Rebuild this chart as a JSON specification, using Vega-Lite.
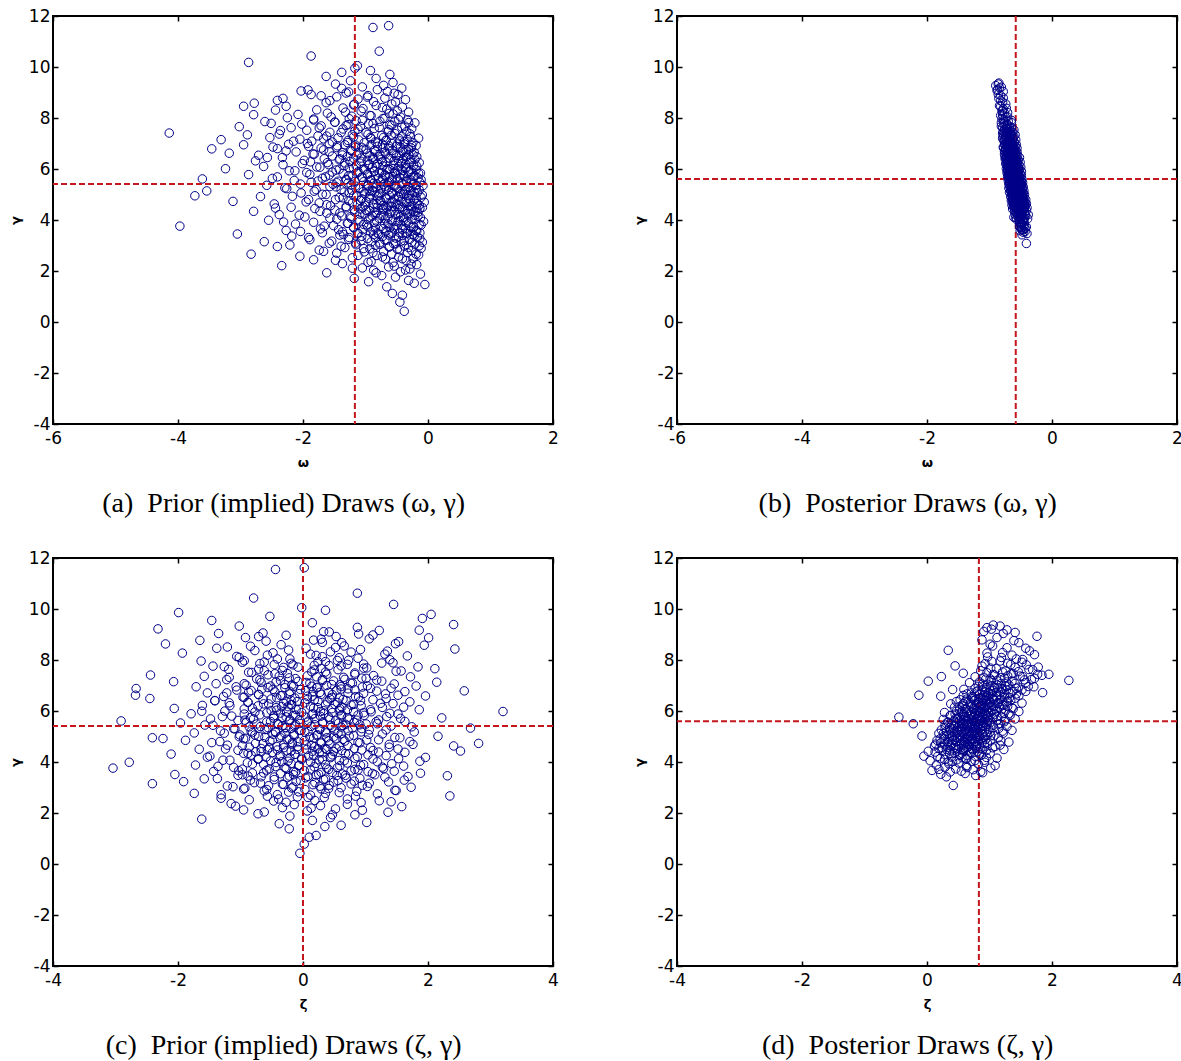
{
"$schema": "https://vega.github.io/schema/vega-lite/v6.json",
"padding": {"left": 8, "top": 6, "right": 0, "bottom": 0},
"columns": 2,
"spacing": {"row": 134, "column": 124},
"bounds": "flush",
"datasets": {
"prior": [
{"g":0.42,"w":-0.38,"z":-0.05},{"g":0.78,"w":-0.45,"z":0.02},{"g":1.05,"w":-0.41,"z":0.10},{"g":1.12,"w":-0.57,"z":0.21},{"g":1.38,"w":-0.66,"z":-0.22},{"g":1.47,"w":-0.05,"z":0.35},
{"g":1.52,"w":-0.22,"z":0.61},{"g":1.58,"w":-0.95,"z":-0.38},{"g":1.63,"w":-0.31,"z":1.02},{"g":1.71,"w":-1.18,"z":0.15},{"g":1.76,"w":-0.52,"z":-1.62},{"g":1.82,"w":-0.74,"z":0.44},{"g":1.88,"w":-0.12,"z":-0.21},{"g":1.93,"w":-1.62,"z":0.83},{"g":1.97,"w":-0.44,"z":-0.72},{"g":2.03,"w":-0.87,"z":1.36},{"g":2.08,"w":-0.29,"z":0.07},{"g":2.12,"w":-1.05,"z":-0.95},{"g":2.16,"w":-0.63,"z":0.52},{"g":2.21,"w":-2.34,"z":-0.33},{"g":2.25,"w":-0.18,"z":1.58},{"g":2.29,"w":-1.37,"z":0.28},{"g":2.33,"w":-0.56,"z":-0.14},{"g":2.37,"w":-0.91,"z":-1.15},{"g":2.41,"w":-0.35,"z":0.93},{"g":2.44,"w":-1.83,"z":1.41},{"g":2.47,"w":-0.68,"z":-0.47},{"g":2.49,"w":-0.24,"z":0.19},
{"g":2.52,"w":-1.21,"z":-0.86},{"g":2.55,"w":-0.47,"z":0.71},{"g":2.58,"w":-2.05,"z":-1.31},{"g":2.61,"w":-0.82,"z":0.34},{"g":2.63,"w":-0.15,"z":-0.09},{"g":2.66,"w":-2.83,"z":-0.57},{"g":2.67,"w":-0.58,"z":2.35},{"g":2.70,"w":-1.46,"z":0.12},{"g":2.72,"w":-0.33,"z":-0.41},{"g":2.75,"w":-1.02,"z":1.19},{"g":2.77,"w":-0.71,"z":-1.74},{"g":2.80,"w":-0.26,"z":0.58},{"g":2.82,"w":-1.74,"z":-0.23},{"g":2.85,"w":-0.49,"z":0.86},{"g":2.87,"w":-0.93,"z":-0.62},{"g":2.89,"w":-0.11,"z":1.47},{"g":2.92,"w":-1.33,"z":0.03},{"g":2.94,"w":-0.62,"z":-0.95},{"g":2.96,"w":-2.41,"z":0.41},{"g":2.98,"w":-0.38,"z":-0.18},{"g":3.01,"w":-0.84,"z":1.73},{"g":3.03,"w":-1.15,"z":-1.12},{"g":3.05,"w":-0.21,"z":0.27},{"g":3.07,"w":-0.55,"z":-0.55},{"g":3.09,"w":-1.58,"z":0.95},{"g":3.11,"w":-0.77,"z":0.16},{"g":3.13,"w":-0.09,"z":-0.33},{"g":3.15,"w":-2.62,"z":-2.41},{"g":3.17,"w":-0.43,"z":1.06},{"g":3.19,"w":-1.07,"z":-0.78},{"g":3.21,"w":-0.66,"z":0.49},{"g":3.23,"w":-1.89,"z":-1.91},{"g":3.25,"w":-0.29,"z":0.82},{"g":3.27,"w":-0.97,"z":-0.04},{"g":3.29,"w":-0.51,"z":1.62},{"g":3.31,"w":-1.26,"z":-0.46},{"g":3.33,"w":-0.17,"z":0.36},{"g":3.35,"w":-0.73,"z":-1.37},{"g":3.37,"w":-2.18,"z":0.69},{"g":3.39,"w":-0.41,"z":-0.25},{"g":3.41,"w":-1.41,"z":1.31},{"g":3.42,"w":-0.87,"z":-0.67},{"g":3.44,"w":-0.24,"z":0.08},{"g":3.45,"w":-3.05,"z":-0.88},{"g":3.46,"w":-0.59,"z":2.31},{"g":3.47,"w":-1.12,"z":0.54},{"g":3.48,"w":-0.35,"z":-1.04},{"g":3.49,"w":-0.81,"z":0.21},{"g":3.50,"w":-1.69,"z":-0.15},{"g":3.50,"w":-0.13,"z":1.15},
{"g":3.51,"w":-0.46,"z":-2.05},{"g":3.53,"w":-0.92,"z":0.63},{"g":3.54,"w":-1.37,"z":-0.36},{"g":3.56,"w":-0.28,"z":1.88},{"g":3.57,"w":-0.67,"z":-0.81},{"g":3.59,"w":-2.27,"z":0.29},{"g":3.60,"w":-0.19,"z":-0.12},{"g":3.62,"w":-1.04,"z":1.04},{"g":3.63,"w":-0.53,"z":-1.43},{"g":3.65,"w":-1.72,"z":0.77},{"g":3.66,"w":-0.36,"z":0.02},{"g":3.68,"w":-0.84,"z":-0.58},{"g":3.69,"w":-0.55,"z":0.88},{"g":3.71,"w":-0.61,"z":0.41},{"g":3.72,"w":-1.19,"z":-0.97},{"g":3.74,"w":-0.23,"z":1.29},{"g":3.75,"w":-0.75,"z":-0.27},{"g":3.76,"w":-3.97,"z":-3.04},{"g":3.78,"w":-1.51,"z":0.55},{"g":3.79,"w":-0.42,"z":-1.11},{"g":3.81,"w":-0.98,"z":0.18},{"g":3.82,"w":-0.14,"z":-0.44},{"g":3.84,"w":-2.12,"z":1.61},{"g":3.85,"w":-0.69,"z":-0.07},{"g":3.87,"w":-1.28,"z":0.92},{"g":3.88,"w":-0.31,"z":-1.72},{"g":3.90,"w":-0.86,"z":0.36},{"g":3.91,"w":-1.83,"z":-0.63},{"g":3.93,"w":-0.48,"z":1.42},{"g":3.94,"w":-0.07,"z":-0.19},{"g":3.96,"w":-1.09,"z":0.71},{"g":3.97,"w":-0.57,"z":-0.89},{"g":3.99,"w":-2.55,"z":-2.78},{"g":4.00,"w":-0.39,"z":0.12},{"g":4.01,"w":-0.95,"z":-0.34},{"g":4.03,"w":-1.46,"z":1.87},{"g":4.04,"w":-0.26,"z":-0.52},{"g":4.06,"w":-0.78,"z":0.58},{"g":4.07,"w":-1.23,"z":-1.28},{"g":4.09,"w":-0.12,"z":0.26},{"g":4.10,"w":-0.64,"z":-0.02},{"g":4.12,"w":-1.97,"z":1.12},{"g":4.13,"w":-0.44,"z":-0.71},{"g":4.15,"w":-0.89,"z":0.83},{"g":4.16,"w":-1.38,"z":-0.21},{"g":4.18,"w":-0.21,"z":1.96},{"g":4.19,"w":-0.71,"z":-1.53},{"g":4.21,"w":-2.38,"z":0.45},{"g":4.22,"w":-0.52,"z":-0.38},{"g":4.24,"w":-1.01,"z":0.09},{"g":4.25,"w":-0.33,"z":1.33},{"g":4.27,"w":-1.62,"z":-0.83},{"g":4.28,"w":-0.83,"z":0.47},{"g":4.30,"w":-0.16,"z":-0.13},{"g":4.31,"w":-1.17,"z":-2.11},{"g":4.33,"w":-0.59,"z":0.68},{"g":4.34,"w":-2.79,"z":-0.95},{"g":4.36,"w":-0.37,"z":0.31},{"g":4.37,"w":-0.94,"z":-0.49},{"g":4.39,"w":-1.49,"z":1.21},{"g":4.40,"w":-0.27,"z":-0.76},{"g":4.42,"w":-0.73,"z":0.15},{"g":4.43,"w":-1.08,"z":2.52},{"g":4.44,"w":-0.46,"z":-0.26},{"g":4.45,"w":-1.81,"z":0.62},{"g":4.46,"w":-0.18,"z":-1.04},{"g":4.47,"w":-0.66,"z":0.94},{"g":4.48,"w":-1.31,"z":-0.57},{"g":4.49,"w":-0.09,"z":0.38},{"g":4.50,"w":-0.81,"z":-0.09},{"g":4.50,"w":-2.19,"z":-1.66},{"g":4.51,"w":-0.41,"z":1.52},{"g":4.52,"w":-1.04,"z":0.24},{"g":4.53,"w":-0.58,"z":-0.67},
{"g":4.54,"w":-0.29,"z":0.53},{"g":4.56,"w":-1.56,"z":-0.31},{"g":4.57,"w":-0.72,"z":1.08},{"g":4.58,"w":-0.14,"z":-0.86},{"g":4.60,"w":-1.13,"z":0.19},{"g":4.61,"w":-0.48,"z":-0.42},{"g":4.63,"w":-2.46,"z":2.41},{"g":4.64,"w":-0.87,"z":0.72},{"g":4.66,"w":-0.34,"z":-1.21},{"g":4.67,"w":-1.74,"z":0.05},{"g":4.69,"w":-0.61,"z":1.38},{"g":4.70,"w":-0.06,"z":-0.17},{"g":4.72,"w":-0.99,"z":-0.64},{"g":4.73,"w":-3.12,"z":2.81},{"g":4.74,"w":-0.43,"z":0.29},{"g":4.76,"w":-1.27,"z":-1.46},{"g":4.77,"w":-0.77,"z":0.88},{"g":4.79,"w":-0.22,"z":-0.08},{"g":4.80,"w":-1.91,"z":1.71},{"g":4.82,"w":-0.54,"z":-0.53},{"g":4.83,"w":-1.06,"z":0.41},{"g":4.85,"w":-0.31,"z":-1.88},{"g":4.86,"w":-0.68,"z":1.02},{"g":4.88,"w":-1.42,"z":-0.22},{"g":4.89,"w":-0.11,"z":0.64},{"g":4.91,"w":-0.93,"z":-0.95},{"g":4.92,"w":-2.68,"z":-2.24},{"g":4.94,"w":-0.47,"z":0.17},{"g":4.95,"w":-1.19,"z":1.55},{"g":4.95,"w":-3.73,"z":-2.41},{"g":4.97,"w":-0.25,"z":-0.37},{"g":4.98,"w":-0.79,"z":0.49},{"g":5.00,"w":-1.63,"z":-0.71},{"g":5.01,"w":-0.39,"z":2.16},{"g":5.03,"w":-1.01,"z":-0.14},{"g":5.04,"w":-0.57,"z":0.81},{"g":5.06,"w":-2.03,"z":-1.01},{"g":5.07,"w":-0.17,"z":0.23},{"g":5.09,"w":-0.85,"z":-0.48},{"g":5.10,"w":-1.34,"z":1.27},{"g":5.12,"w":-0.45,"z":-0.29},{"g":5.13,"w":-0.94,"z":0.56},{"g":5.14,"w":-3.54,"z":-1.74},{"g":5.15,"w":-0.28,"z":-0.81},{"g":5.17,"w":-1.22,"z":0.03},{"g":5.18,"w":-0.63,"z":1.78},{"g":5.19,"w":-1.79,"z":-0.44},{"g":5.21,"w":-0.36,"z":0.36},{"g":5.22,"w":-0.75,"z":-1.32},{"g":5.23,"w":-1.09,"z":0.72},{"g":5.24,"w":-0.19,"z":-0.03},{"g":5.26,"w":-2.29,"z":1.06},{"g":5.27,"w":-0.51,"z":-0.61},{"g":5.28,"w":-0.88,"z":0.27},{"g":5.30,"w":-1.47,"z":-1.09},{"g":5.31,"w":-0.32,"z":0.94},{"g":5.32,"w":-0.69,"z":-0.19},{"g":5.33,"w":-1.16,"z":2.68},{"g":5.35,"w":-0.08,"z":-0.56},{"g":5.36,"w":-2.58,"z":-0.28},{"g":5.37,"w":-0.55,"z":0.61},{"g":5.38,"w":-0.96,"z":-0.86},{"g":5.40,"w":-1.52,"z":0.13},{"g":5.41,"w":-0.24,"z":1.41},{"g":5.42,"w":-0.82,"z":-0.33},{"g":5.44,"w":-0.42,"z":0.44},{"g":5.45,"w":-1.28,"z":-1.57},{"g":5.46,"w":-0.64,"z":0.91},{"g":5.47,"w":-0.13,"z":-0.12},{"g":5.48,"w":-1.87,"z":0.68},{"g":5.49,"w":-0.76,"z":-0.74},{"g":5.50,"w":-1.03,"z":1.19},
{"g":5.51,"w":-0.35,"z":-0.41},{"g":5.52,"w":-1.44,"z":0.31},{"g":5.53,"w":-0.58,"z":-1.96},{"g":5.55,"w":-2.14,"z":0.82},{"g":5.56,"w":-0.27,"z":0.07},{"g":5.57,"w":-0.91,"z":-0.58},{"g":5.59,"w":-1.31,"z":1.63},{"g":5.60,"w":-0.49,"z":-0.22},{"g":5.61,"w":-3.61,"z":-2.91},{"g":5.62,"w":-0.73,"z":0.52},{"g":5.64,"w":-1.69,"z":-0.93},{"g":5.65,"w":-0.16,"z":1.21},{"g":5.66,"w":-1.05,"z":-0.06},{"g":5.68,"w":-0.62,"z":0.74},{"g":5.69,"w":-2.41,"z":-1.48},{"g":5.70,"w":-0.38,"z":0.19},{"g":5.72,"w":-0.84,"z":-0.47},{"g":5.73,"w":-1.21,"z":2.22},{"g":5.74,"w":-0.21,"z":-0.84},{"g":5.76,"w":-1.58,"z":0.41},{"g":5.77,"w":-0.69,"z":-0.27},{"g":5.78,"w":-2.87,"z":1.34},{"g":5.80,"w":-0.44,"z":-1.14},{"g":5.81,"w":-0.97,"z":0.61},{"g":5.82,"w":-1.36,"z":-0.16},{"g":5.84,"w":-0.12,"z":0.88},{"g":5.85,"w":-0.78,"z":-0.69},{"g":5.86,"w":-1.94,"z":0.14},{"g":5.88,"w":-0.53,"z":1.52},{"g":5.89,"w":-1.12,"z":-1.79},{"g":5.90,"w":-0.29,"z":0.33},{"g":5.92,"w":-0.86,"z":-0.36},{"g":5.93,"w":-2.22,"z":0.97},{"g":5.94,"w":-0.41,"z":-0.02},{"g":5.96,"w":-1.47,"z":-0.77},{"g":5.97,"w":-0.66,"z":1.09},{"g":5.98,"w":-0.19,"z":0.28},{"g":5.98,"w":-0.61,"z":3.20},{"g":6.00,"w":-1.03,"z":-1.25},{"g":6.01,"w":-3.24,"z":0.58},{"g":6.02,"w":-0.56,"z":-0.51},{"g":6.04,"w":-1.26,"z":0.71},{"g":6.05,"w":-0.34,"z":1.86},{"g":6.06,"w":-0.89,"z":-0.11},{"g":6.08,"w":-1.78,"z":-0.94},{"g":6.09,"w":-0.47,"z":0.46},{"g":6.10,"w":-2.63,"z":-2.06},{"g":6.12,"w":-0.72,"z":0.17},{"g":6.13,"w":-1.15,"z":-0.43},{"g":6.14,"w":-0.23,"z":1.27},{"g":6.16,"w":-0.95,"z":0.62},{"g":6.17,"w":-1.59,"z":-0.24},{"g":6.20,"w":-0.36,"z":-0.72},{"g":6.21,"w":-2.01,"z":0.93},{"g":6.22,"w":-0.81,"z":-1.61},{"g":6.24,"w":-1.33,"z":0.36},{"g":6.25,"w":-0.14,"z":-0.18},{"g":6.26,"w":-0.67,"z":0.81},{"g":6.28,"w":-1.88,"z":-0.55},{"g":6.29,"w":-0.43,"z":1.44},{"g":6.30,"w":-1.07,"z":-0.31},{"g":6.32,"w":-2.76,"z":-1.18},{"g":6.33,"w":-0.54,"z":0.55},{"g":6.34,"w":-0.97,"z":-0.88},{"g":6.36,"w":-1.42,"z":1.71},{"g":6.37,"w":-0.28,"z":-0.09},{"g":6.38,"w":-0.75,"z":0.24},{"g":6.40,"w":-1.66,"z":-1.41},{"g":6.41,"w":-0.39,"z":0.69},{"g":6.42,"w":-1.19,"z":-0.19},{"g":6.44,"w":-0.63,"z":1.12},{"g":6.45,"w":-2.33,"z":0.07},{"g":6.46,"w":-0.88,"z":-0.64},{"g":6.48,"w":-0.18,"z":0.43},{"g":6.49,"w":-1.29,"z":-2.45},
{"g":6.51,"w":-0.46,"z":0.58},{"g":6.52,"w":-0.93,"z":-0.42},{"g":6.54,"w":-2.71,"z":-0.94},{"g":6.55,"w":-1.37,"z":0.89},{"g":6.57,"w":-0.31,"z":-1.27},{"g":6.58,"w":-0.77,"z":0.15},{"g":6.59,"w":-1.84,"z":1.96},{"g":6.61,"w":-0.55,"z":-0.33},{"g":6.62,"w":-3.18,"z":-2.68},{"g":6.64,"w":-1.11,"z":0.47},{"g":6.65,"w":-0.22,"z":-0.71},{"g":6.67,"w":-0.69,"z":1.32},{"g":6.68,"w":-1.58,"z":-0.06},{"g":6.70,"w":-0.41,"z":0.72},{"g":6.71,"w":-2.27,"z":-1.53},{"g":6.73,"w":-0.86,"z":0.27},{"g":6.74,"w":-1.24,"z":-0.87},{"g":6.76,"w":-0.35,"z":1.63},{"g":6.77,"w":-0.99,"z":-0.21},{"g":6.79,"w":-3.46,"z":2.58},{"g":6.80,"w":-0.62,"z":0.04},{"g":6.82,"w":-1.71,"z":-1.06},{"g":6.83,"w":-0.27,"z":0.83},{"g":6.85,"w":-1.06,"z":-0.48},{"g":6.86,"w":-2.48,"z":0.61},{"g":6.88,"w":-0.51,"z":-2.67},{"g":6.89,"w":-0.81,"z":1.08},{"g":6.91,"w":-1.45,"z":0.22},{"g":6.92,"w":-0.19,"z":-0.56},{"g":6.94,"w":-1.16,"z":0.95},{"g":6.95,"w":-2.95,"z":-1.71},{"g":6.97,"w":-0.73,"z":-0.15},{"g":6.98,"w":-0.38,"z":1.81},{"g":7.00,"w":-1.93,"z":0.38},{"g":7.01,"w":-0.58,"z":-0.91},{"g":7.03,"w":-1.02,"z":0.59},{"g":7.04,"w":-0.24,"z":-0.29},{"g":7.06,"w":-1.53,"z":1.46},{"g":7.07,"w":-0.84,"z":-1.39},{"g":7.09,"w":-2.15,"z":0.11},{"g":7.10,"w":-0.45,"z":0.76},{"g":7.12,"w":-1.28,"z":-0.67},{"g":7.13,"w":-0.67,"z":2.14},{"g":7.15,"w":-3.31,"z":-2.07},{"g":7.16,"w":-0.33,"z":-0.08},{"g":7.18,"w":-1.67,"z":0.49},{"g":7.19,"w":-0.91,"z":-0.36},{"g":7.21,"w":-0.15,"z":1.18},{"g":7.23,"w":-2.53,"z":-1.22},{"g":7.24,"w":-0.71,"z":0.31},{"g":7.26,"w":-1.19,"z":-0.74},{"g":7.28,"w":-0.42,"z":1.01},{"g":7.30,"w":-1.76,"z":-0.22},{"g":7.32,"w":-0.59,"z":0.65},{"g":7.34,"w":-2.89,"z":1.72},{"g":7.36,"w":-0.96,"z":-1.58},{"g":7.38,"w":-0.29,"z":0.07},{"g":7.41,"w":-4.14,"z":-2.44},{"g":7.43,"w":-1.39,"z":0.83},{"g":7.46,"w":-0.64,"z":-0.45},
{"g":7.51,"w":-2.36,"z":-0.82},{"g":7.53,"w":-0.49,"z":0.36},{"g":7.56,"w":-1.12,"z":1.49},{"g":7.58,"w":-0.26,"z":-0.62},{"g":7.61,"w":-1.74,"z":0.18},{"g":7.63,"w":-0.78,"z":-1.19},{"g":7.66,"w":-3.02,"z":2.11},{"g":7.68,"w":-0.37,"z":0.97},{"g":7.71,"w":-1.31,"z":-0.31},{"g":7.73,"w":-0.61,"z":1.84},{"g":7.76,"w":-2.02,"z":-1.44},{"g":7.78,"w":-0.88,"z":0.42},{"g":7.81,"w":-0.21,"z":-0.16},{"g":7.83,"w":-1.49,"z":0.71},{"g":7.86,"w":-2.61,"z":-0.69},{"g":7.88,"w":-0.53,"z":1.26},{"g":7.91,"w":-1.05,"z":-0.97},{"g":7.93,"w":-0.33,"z":0.24},{"g":7.96,"w":-1.83,"z":-1.63},{"g":7.98,"w":-0.72,"z":0.55},{"g":8.01,"w":-2.25,"z":1.39},{"g":8.04,"w":-0.44,"z":-0.41},{"g":8.07,"w":-1.22,"z":0.88},{"g":8.10,"w":-0.93,"z":-1.02},{"g":8.13,"w":-2.79,"z":0.31},{"g":8.16,"w":-0.56,"z":1.67},{"g":8.19,"w":-1.61,"z":-0.57},{"g":8.23,"w":-0.31,"z":0.12},{"g":8.27,"w":-1.07,"z":-1.93},{"g":8.31,"w":-2.44,"z":0.77},{"g":8.35,"w":-0.66,"z":1.35},{"g":8.39,"w":-1.36,"z":-0.23},{"g":8.43,"w":-0.41,"z":2.43},{"g":8.46,"w":-2.95,"z":-1.38},{"g":8.49,"w":-0.83,"z":0.52},
{"g":8.54,"w":-1.18,"z":-0.84},{"g":8.58,"w":-2.78,"z":1.94},{"g":8.63,"w":-0.52,"z":-2.20},{"g":8.68,"w":-1.57,"z":0.62},{"g":8.72,"w":-0.36,"z":1.53},{"g":8.77,"w":-2.32,"z":-1.65},{"g":8.82,"w":-0.97,"z":0.29},{"g":8.87,"w":-1.71,"z":2.01},{"g":8.92,"w":-0.48,"z":-0.71},{"g":8.98,"w":-1.31,"z":1.12},{"g":9.04,"w":-0.65,"z":-1.35},{"g":9.10,"w":-1.92,"z":0.42},{"g":9.17,"w":-0.42,"z":1.86},{"g":9.22,"w":-1.05,"z":-2.32},{"g":9.28,"w":-0.71,"z":0.87},{"g":9.33,"w":-1.48,"z":-1.02},{"g":9.39,"w":-0.56,"z":2.41},{"g":9.46,"w":-1.24,"z":0.15},
{"g":9.55,"w":-0.83,"z":-1.46},{"g":9.63,"w":-1.63,"z":1.91},{"g":9.71,"w":-0.61,"z":-0.53},{"g":9.79,"w":-1.38,"z":2.05},{"g":9.86,"w":-0.92,"z":-1.99},{"g":9.95,"w":-1.17,"z":0.36},{"g":10.05,"w":-1.13,"z":-0.02},{"g":10.18,"w":-2.87,"z":1.45},{"g":10.43,"w":-1.87,"z":-0.79},{"g":10.62,"w":-0.78,"z":0.87},{"g":11.55,"w":-0.88,"z":-0.44},{"g":11.62,"w":-0.63,"z":0.02},
{"g":1.93,"w":-0.83,"z":0.47},{"g":2.04,"w":-0.36,"z":-0.62},{"g":2.11,"w":-1.21,"z":0.95},{"g":2.19,"w":-0.54,"z":0.13},{"g":2.27,"w":-0.27,"z":-1.08},{"g":2.34,"w":-0.96,"z":0.71},{"g":2.42,"w":-1.48,"z":-0.27},{"g":2.48,"w":-0.41,"z":1.22},{"g":2.55,"w":-0.73,"z":-0.39},{"g":2.61,"w":-1.12,"z":0.08},{"g":2.66,"w":-0.19,"z":0.84},{"g":2.72,"w":-0.88,"z":-1.31},{"g":2.77,"w":-1.67,"z":0.36},{"g":2.83,"w":-0.45,"z":-0.07},{"g":2.88,"w":-1.03,"z":1.49},{"g":2.92,"w":-0.31,"z":-0.58},{"g":2.95,"w":-0.62,"z":0.29},{"g":2.97,"w":-1.39,"z":-0.93},{"g":2.99,"w":-0.14,"z":0.61},{"g":3.02,"w":-2.21,"z":-0.16},
{"g":3.04,"w":-0.77,"z":1.03},{"g":3.06,"w":-0.52,"z":-1.21},{"g":3.09,"w":-1.16,"z":0.42},{"g":3.12,"w":-0.26,"z":-0.31},{"g":3.14,"w":-0.91,"z":0.77},{"g":3.17,"w":-1.54,"z":-0.68},{"g":3.19,"w":-0.38,"z":0.19},{"g":3.22,"w":-0.69,"z":1.37},{"g":3.24,"w":-1.27,"z":-0.11},{"g":3.27,"w":-0.13,"z":0.56},{"g":3.29,"w":-0.84,"z":-0.84},{"g":3.31,"w":-1.91,"z":0.33},{"g":3.34,"w":-0.47,"z":-1.58},{"g":3.36,"w":-1.06,"z":0.91},{"g":3.38,"w":-0.22,"z":0.04},{"g":3.41,"w":-0.63,"z":-0.46},{"g":3.43,"w":-1.35,"z":1.68},{"g":3.45,"w":-0.79,"z":-0.22},{"g":3.48,"w":-0.33,"z":0.68},{"g":3.50,"w":-1.13,"z":-0.97},{"g":3.52,"w":-0.57,"z":0.25},{"g":3.55,"w":-2.04,"z":1.11},{"g":3.57,"w":-0.18,"z":-0.63},{"g":3.59,"w":-0.88,"z":0.47},{"g":3.62,"w":-1.43,"z":-0.15},{"g":3.64,"w":-0.41,"z":1.46},{"g":3.66,"w":-0.72,"z":-1.03},{"g":3.69,"w":-1.19,"z":0.12},{"g":3.71,"w":-0.27,"z":0.83},{"g":3.73,"w":-0.96,"z":-0.54},{"g":3.76,"w":-1.66,"z":0.38},{"g":3.78,"w":-0.51,"z":-0.29},{"g":3.80,"w":-0.11,"z":1.27},{"g":3.83,"w":-1.03,"z":-1.36},{"g":3.85,"w":-0.64,"z":0.59},{"g":3.87,"w":-1.29,"z":-0.06},{"g":3.90,"w":-0.35,"z":0.97},{"g":3.92,"w":-2.31,"z":-0.81},{"g":3.95,"w":-0.82,"z":0.21},{"g":3.98,"w":-0.46,"z":-0.43},
{"g":4.01,"w":-1.12,"z":1.19},{"g":4.03,"w":-0.21,"z":-0.24},{"g":4.05,"w":-0.68,"z":0.66},{"g":4.07,"w":-1.57,"z":-1.17},{"g":4.09,"w":-0.39,"z":0.31},{"g":4.11,"w":-0.93,"z":-0.72},{"g":4.13,"w":-1.24,"z":1.53},{"g":4.15,"w":-0.16,"z":-0.02},{"g":4.17,"w":-0.75,"z":0.44},{"g":4.19,"w":-2.06,"z":-0.59},{"g":4.21,"w":-0.48,"z":0.87},{"g":4.23,"w":-1.09,"z":-1.49},{"g":4.25,"w":-0.29,"z":0.17},{"g":4.26,"w":-0.61,"z":-0.36},{"g":4.28,"w":-1.41,"z":1.04},{"g":4.30,"w":-0.86,"z":-0.13},{"g":4.32,"w":-0.23,"z":0.73},{"g":4.34,"w":-1.73,"z":-0.88},{"g":4.36,"w":-0.54,"z":0.26},{"g":4.38,"w":-0.99,"z":1.63},{"g":4.40,"w":-0.32,"z":-0.67},{"g":4.41,"w":-1.18,"z":0.49},{"g":4.43,"w":-0.71,"z":-0.19},{"g":4.45,"w":-0.13,"z":1.12},{"g":4.47,"w":-2.44,"z":-0.41},{"g":4.49,"w":-0.87,"z":0.06},{"g":4.51,"w":-0.44,"z":-1.24},{"g":4.53,"w":-1.31,"z":0.82},{"g":4.54,"w":-0.64,"z":0.35},{"g":4.56,"w":-0.26,"z":-0.54},{"g":4.58,"w":-1.01,"z":1.38},{"g":4.60,"w":-1.62,"z":-0.09},{"g":4.62,"w":-0.51,"z":0.58},{"g":4.64,"w":-0.82,"z":-0.97},{"g":4.65,"w":-0.17,"z":0.14},{"g":4.67,"w":-1.21,"z":-0.31},{"g":4.69,"w":-0.58,"z":1.76},{"g":4.71,"w":-1.95,"z":0.43},{"g":4.73,"w":-0.35,"z":-0.76},{"g":4.75,"w":-0.76,"z":0.91},{"g":4.76,"w":-1.08,"z":-0.17},{"g":4.78,"w":-0.28,"z":0.29},{"g":4.80,"w":-1.48,"z":-1.33},{"g":4.82,"w":-0.66,"z":0.67},{"g":4.84,"w":-0.94,"z":0.02},{"g":4.86,"w":-0.19,"z":-0.49},{"g":4.87,"w":-1.36,"z":1.21},{"g":4.89,"w":-0.47,"z":-0.26},{"g":4.91,"w":-0.81,"z":0.53},{"g":4.93,"w":-2.17,"z":-0.92},{"g":4.95,"w":-0.31,"z":0.38},{"g":4.96,"w":-1.14,"z":1.47},{"g":4.97,"w":-0.62,"z":-0.61},{"g":4.98,"w":-0.09,"z":0.11},{"g":4.99,"w":-0.92,"z":-1.02},
{"g":5.01,"w":-1.69,"z":0.74},{"g":5.03,"w":-0.43,"z":-0.35},{"g":5.04,"w":-0.77,"z":0.22},{"g":5.06,"w":-1.26,"z":-0.77},{"g":5.08,"w":-0.22,"z":1.05},{"g":5.09,"w":-0.58,"z":-0.15},{"g":5.11,"w":-1.04,"z":0.61},{"g":5.13,"w":-1.82,"z":-1.26},{"g":5.14,"w":-0.37,"z":0.37},{"g":5.16,"w":-0.89,"z":-0.44},{"g":5.18,"w":-0.14,"z":0.93},{"g":5.19,"w":-1.39,"z":0.08},{"g":5.21,"w":-0.67,"z":-0.83},{"g":5.23,"w":-2.26,"z":0.51},{"g":5.24,"w":-0.48,"z":-0.06},{"g":5.26,"w":-1.11,"z":1.33},{"g":5.28,"w":-0.29,"z":-0.58},{"g":5.29,"w":-0.83,"z":0.27},{"g":5.31,"w":-1.57,"z":-1.11},{"g":5.33,"w":-0.53,"z":0.79},{"g":5.34,"w":-0.96,"z":-0.27},{"g":5.36,"w":-0.19,"z":0.46},{"g":5.38,"w":-1.23,"z":1.74},{"g":5.39,"w":-0.71,"z":-0.68},{"g":5.41,"w":-2.04,"z":-0.13},{"g":5.43,"w":-0.41,"z":0.64},{"g":5.44,"w":-0.87,"z":-1.44},{"g":5.46,"w":-1.46,"z":0.19},{"g":5.48,"w":-0.26,"z":-0.39},{"g":5.49,"w":-0.62,"z":1.01},{"g":5.51,"w":-1.17,"z":-0.05},{"g":5.53,"w":-1.76,"z":0.57},{"g":5.54,"w":-0.34,"z":-0.91},{"g":5.56,"w":-0.92,"z":0.32},{"g":5.58,"w":-0.11,"z":1.17},{"g":5.59,"w":-1.31,"z":-0.52},{"g":5.61,"w":-0.57,"z":0.09},{"g":5.63,"w":-2.49,"z":-1.04},{"g":5.64,"w":-0.79,"z":0.86},{"g":5.66,"w":-0.45,"z":-0.21},{"g":5.68,"w":-1.06,"z":0.43},{"g":5.69,"w":-1.64,"z":-0.79},{"g":5.71,"w":-0.23,"z":1.56},{"g":5.73,"w":-0.68,"z":-0.33},{"g":5.74,"w":-1.27,"z":0.71},{"g":5.76,"w":-0.39,"z":0.04},{"g":5.78,"w":-0.97,"z":-1.29},{"g":5.79,"w":-1.89,"z":0.28},{"g":5.81,"w":-0.52,"z":-0.47},{"g":5.83,"w":-0.15,"z":0.98},{"g":5.84,"w":-1.13,"z":-0.12},{"g":5.86,"w":-0.74,"z":0.62},{"g":5.88,"w":-1.53,"z":-0.94},{"g":5.89,"w":-0.31,"z":0.16},{"g":5.91,"w":-0.86,"z":1.39},{"g":5.93,"w":-2.13,"z":-0.58},{"g":5.94,"w":-0.49,"z":0.47},{"g":5.96,"w":-1.01,"z":-0.26},{"g":5.98,"w":-0.27,"z":0.81},{"g":5.99,"w":-1.42,"z":-1.62},
{"g":6.01,"w":-0.64,"z":0.33},{"g":6.03,"w":-1.19,"z":-0.42},{"g":6.05,"w":-0.36,"z":1.08},{"g":6.07,"w":-1.73,"z":-0.07},{"g":6.09,"w":-0.83,"z":0.59},{"g":6.11,"w":-0.18,"z":-0.81},{"g":6.13,"w":-1.34,"z":0.24},{"g":6.15,"w":-0.55,"z":1.61},{"g":6.17,"w":-2.32,"z":-0.34},{"g":6.19,"w":-0.94,"z":0.12},{"g":6.21,"w":-0.42,"z":-1.17},{"g":6.23,"w":-1.09,"z":0.77},{"g":6.25,"w":-1.61,"z":-0.19},{"g":6.26,"w":-0.29,"z":0.51},{"g":6.28,"w":-0.73,"z":-0.63},{"g":6.30,"w":-1.25,"z":1.24},{"g":6.32,"w":-0.47,"z":0.03},{"g":6.34,"w":-1.98,"z":-0.88},{"g":6.36,"w":-0.88,"z":0.39},{"g":6.38,"w":-0.21,"z":-0.27},{"g":6.40,"w":-1.41,"z":0.92},{"g":6.41,"w":-0.61,"z":-1.41},{"g":6.43,"w":-1.07,"z":0.18},{"g":6.45,"w":-2.57,"z":0.64},{"g":6.47,"w":-0.35,"z":-0.51},{"g":6.49,"w":-0.79,"z":1.33},{"g":6.51,"w":-1.53,"z":-0.13},{"g":6.53,"w":-0.51,"z":0.46},{"g":6.54,"w":-1.14,"z":-0.96},{"g":6.56,"w":-0.24,"z":0.84},{"g":6.58,"w":-1.82,"z":0.07},{"g":6.60,"w":-0.68,"z":-0.36},{"g":6.62,"w":-0.97,"z":1.52},{"g":6.64,"w":-1.37,"z":-0.71},{"g":6.65,"w":-0.39,"z":0.29},{"g":6.67,"w":-2.11,"z":-0.22},{"g":6.69,"w":-0.84,"z":0.97},{"g":6.71,"w":-1.22,"z":-1.22},{"g":6.73,"w":-0.57,"z":0.41},{"g":6.75,"w":-1.67,"z":-0.45},{"g":6.76,"w":-0.31,"z":0.16},{"g":6.78,"w":-1.03,"z":1.18},{"g":6.80,"w":-2.41,"z":-0.83},{"g":6.82,"w":-0.72,"z":0.54},{"g":6.84,"w":-1.46,"z":-0.04},{"g":6.86,"w":-0.44,"z":-0.66},{"g":6.87,"w":-1.16,"z":0.72},{"g":6.89,"w":-1.91,"z":1.41},{"g":6.91,"w":-0.63,"z":-0.29},{"g":6.93,"w":-0.26,"z":0.23},{"g":6.95,"w":-1.33,"z":-1.07},{"g":6.96,"w":-0.91,"z":0.61},{"g":6.97,"w":-2.23,"z":0.14},{"g":6.98,"w":-0.49,"z":-0.52},{"g":6.99,"w":-1.58,"z":1.03},
{"g":7.02,"w":-0.81,"z":-0.18},{"g":7.04,"w":-1.29,"z":0.46},{"g":7.07,"w":-0.38,"z":-0.94},{"g":7.09,"w":-1.86,"z":0.79},{"g":7.12,"w":-0.67,"z":0.05},{"g":7.14,"w":-1.11,"z":-0.43},{"g":7.17,"w":-2.05,"z":1.26},{"g":7.19,"w":-0.46,"z":0.31},{"g":7.22,"w":-1.44,"z":-0.69},{"g":7.24,"w":-0.92,"z":0.67},{"g":7.27,"w":-0.28,"z":-0.12},{"g":7.29,"w":-1.62,"z":0.94},{"g":7.32,"w":-0.74,"z":-1.18},{"g":7.34,"w":-1.21,"z":0.22},{"g":7.37,"w":-2.38,"z":-0.38},{"g":7.39,"w":-0.53,"z":1.13},{"g":7.42,"w":-0.99,"z":-0.56},{"g":7.44,"w":-1.57,"z":0.38},{"g":7.47,"w":-0.34,"z":-0.25},{"g":7.49,"w":-1.17,"z":0.83},{"g":7.52,"w":-1.94,"z":-0.87},{"g":7.54,"w":-0.63,"z":0.14},{"g":7.57,"w":-1.36,"z":1.57},{"g":7.59,"w":-0.86,"z":-0.33},{"g":7.62,"w":-2.19,"z":0.56},{"g":7.64,"w":-0.42,"z":-0.71},{"g":7.67,"w":-1.08,"z":0.29},{"g":7.69,"w":-1.71,"z":1.02},{"g":7.72,"w":-0.58,"z":-0.08},{"g":7.74,"w":-1.28,"z":-1.26},{"g":7.77,"w":-0.95,"z":0.61},{"g":7.79,"w":-2.51,"z":0.18},{"g":7.82,"w":-0.31,"z":-0.46},{"g":7.84,"w":-1.49,"z":0.97},{"g":7.87,"w":-0.77,"z":-0.19},{"g":7.89,"w":-1.15,"z":1.44},{"g":7.92,"w":-1.83,"z":-0.62},{"g":7.94,"w":-0.47,"z":0.36},{"g":7.97,"w":-1.26,"z":-0.94},{"g":7.99,"w":-0.69,"z":0.73},
{"g":8.04,"w":-1.55,"z":-0.21},{"g":8.09,"w":-0.91,"z":0.58},{"g":8.14,"w":-2.08,"z":-1.06},{"g":8.18,"w":-0.62,"z":0.21},{"g":8.23,"w":-1.32,"z":1.31},{"g":8.28,"w":-0.49,"z":-0.48},{"g":8.32,"w":-1.78,"z":0.44},{"g":8.37,"w":-1.04,"z":-0.77},{"g":8.41,"w":-0.73,"z":0.92},{"g":8.46,"w":-2.27,"z":0.05},{"g":8.51,"w":-1.19,"z":-1.21},{"g":8.55,"w":-0.58,"z":0.66},{"g":8.60,"w":-1.63,"z":-0.35},{"g":8.64,"w":-0.87,"z":1.48},{"g":8.69,"w":-2.41,"z":0.31},{"g":8.74,"w":-1.12,"z":-0.59},{"g":8.78,"w":-0.69,"z":0.17},{"g":8.83,"w":-1.46,"z":1.06},{"g":8.88,"w":-0.96,"z":-0.92},{"g":8.92,"w":-1.87,"z":0.53},{"g":8.97,"w":-0.54,"z":-0.27},{"g":9.02,"w":-1.27,"z":0.89},{"g":9.06,"w":-2.03,"z":-0.64},{"g":9.11,"w":-0.81,"z":0.33},{"g":9.16,"w":-1.38,"z":1.22}
],
"post": [
{"g":3.08,"w":-0.41,"z":0.42},{"g":3.42,"w":-0.48,"z":0.31},{"g":3.47,"w":-0.40,"z":0.78},{"g":3.52,"w":-0.46,"z":0.22},{"g":3.55,"w":-0.43,"z":0.61},{"g":3.58,"w":-0.51,"z":0.89},{"g":3.61,"w":-0.46,"z":0.37},{"g":3.64,"w":-0.49,"z":0.55},{"g":3.67,"w":-0.43,"z":0.08},{"g":3.70,"w":-0.49,"z":0.74},{"g":3.73,"w":-0.41,"z":0.46},{"g":3.76,"w":-0.52,"z":1.02},{"g":3.80,"w":-0.46,"z":0.29},{"g":3.84,"w":-0.49,"z":0.63},{"g":3.88,"w":-0.51,"z":0.15},{"g":3.92,"w":-0.45,"z":0.82},{"g":3.96,"w":-0.47,"z":0.51},
{"g":3.62,"w":-0.47,"z":0.86},{"g":3.71,"w":-0.51,"z":0.19},{"g":3.78,"w":-0.44,"z":0.64},{"g":3.86,"w":-0.48,"z":1.09},{"g":3.93,"w":-0.52,"z":0.35},{"g":3.99,"w":-0.45,"z":0.92},
{"g":4.01,"w":-0.46,"z":0.34},{"g":4.03,"w":-0.57,"z":0.71},{"g":4.05,"w":-0.39,"z":0.05},{"g":4.07,"w":-0.51,"z":0.92},{"g":4.09,"w":-0.44,"z":0.48},{"g":4.11,"w":-0.61,"z":0.63},{"g":4.13,"w":-0.49,"z":0.21},{"g":4.15,"w":-0.55,"z":1.12},{"g":4.17,"w":-0.42,"z":0.56},{"g":4.19,"w":-0.54,"z":0.39},{"g":4.21,"w":-0.38,"z":0.78},{"g":4.23,"w":-0.59,"z":-0.05},{"g":4.25,"w":-0.47,"z":0.64},{"g":4.27,"w":-0.52,"z":0.87},{"g":4.29,"w":-0.57,"z":0.29},{"g":4.31,"w":-0.44,"z":0.52},{"g":4.33,"w":-0.48,"z":1.01},{"g":4.35,"w":-0.59,"z":0.44},{"g":4.37,"w":-0.41,"z":0.69},{"g":4.39,"w":-0.53,"z":0.13},{"g":4.41,"w":-0.46,"z":0.81},{"g":4.43,"w":-0.63,"z":0.58},{"g":4.44,"w":-0.51,"z":0.37},{"g":4.45,"w":-0.57,"z":0.95},{"g":4.46,"w":-0.44,"z":0.24},{"g":4.47,"w":-0.56,"z":0.66},{"g":4.48,"w":-0.40,"z":0.49},{"g":4.49,"w":-0.61,"z":1.23},{"g":4.50,"w":-0.48,"z":0.73},{"g":4.50,"w":-0.53,"z":0.31},
{"g":4.51,"w":-0.58,"z":0.58},{"g":4.52,"w":-0.45,"z":0.86},{"g":4.53,"w":-0.49,"z":0.19},{"g":4.54,"w":-0.60,"z":0.71},{"g":4.55,"w":-0.43,"z":0.42},{"g":4.56,"w":-0.55,"z":1.05},{"g":4.57,"w":-0.47,"z":0.63},{"g":4.58,"w":-0.64,"z":0.33},{"g":4.59,"w":-0.52,"z":0.79},{"g":4.60,"w":-0.58,"z":0.51},{"g":4.62,"w":-0.45,"z":0.92},{"g":4.63,"w":-0.57,"z":0.12},{"g":4.64,"w":-0.41,"z":0.68},{"g":4.65,"w":-0.62,"z":0.46},{"g":4.66,"w":-0.49,"z":1.17},{"g":4.67,"w":-0.54,"z":0.59},{"g":4.68,"w":-0.59,"z":0.28},{"g":4.69,"w":-0.47,"z":0.84},{"g":4.70,"w":-0.51,"z":0.65},{"g":4.71,"w":-0.62,"z":0.39},{"g":4.72,"w":-0.44,"z":0.97},{"g":4.73,"w":-0.56,"z":0.74},{"g":4.74,"w":-0.48,"z":0.55},{"g":4.75,"w":-0.65,"z":0.22},{"g":4.76,"w":-0.53,"z":0.88},{"g":4.77,"w":-0.59,"z":0.61},{"g":4.78,"w":-0.46,"z":1.31},{"g":4.79,"w":-0.58,"z":0.47},{"g":4.80,"w":-0.42,"z":0.76},{"g":4.81,"w":-0.64,"z":0.35},{"g":4.82,"w":-0.51,"z":0.69},{"g":4.83,"w":-0.56,"z":1.02},{"g":4.84,"w":-0.61,"z":0.53},{"g":4.85,"w":-0.48,"z":0.16},{"g":4.86,"w":-0.52,"z":0.82},{"g":4.87,"w":-0.63,"z":0.62},{"g":4.88,"w":-0.45,"z":0.43},{"g":4.89,"w":-0.57,"z":0.94},{"g":4.90,"w":-0.49,"z":0.71},{"g":4.91,"w":-0.66,"z":0.27},{"g":4.93,"w":-0.54,"z":0.78},{"g":4.94,"w":-0.60,"z":0.57},{"g":4.95,"w":-0.47,"z":1.14},{"g":4.97,"w":-0.60,"z":0.48},{"g":4.99,"w":-0.44,"z":0.66},
{"g":5.00,"w":-0.65,"z":0.83},{"g":5.01,"w":-0.52,"z":0.41},{"g":5.02,"w":-0.57,"z":0.69},{"g":5.02,"w":-0.62,"z":-0.08},{"g":5.03,"w":-0.49,"z":1.07},{"g":5.04,"w":-0.53,"z":0.28},{"g":5.05,"w":-0.64,"z":0.76},{"g":5.06,"w":-0.46,"z":0.52},{"g":5.07,"w":-0.58,"z":0.97},{"g":5.08,"w":-0.50,"z":0.63},{"g":5.09,"w":-0.68,"z":0.35},{"g":5.10,"w":-0.56,"z":0.88},{"g":5.11,"w":-0.62,"z":0.71},{"g":5.12,"w":-0.49,"z":0.19},{"g":5.13,"w":-0.61,"z":1.22},{"g":5.14,"w":-0.45,"z":0.59},{"g":5.15,"w":-0.66,"z":0.81},{"g":5.16,"w":-0.53,"z":0.44},{"g":5.17,"w":-0.58,"z":0.73},{"g":5.18,"w":-0.63,"z":1.01},{"g":5.19,"w":-0.50,"z":0.55},{"g":5.20,"w":-0.54,"z":0.31},{"g":5.21,"w":-0.65,"z":0.92},{"g":5.22,"w":-0.47,"z":0.67},{"g":5.23,"w":-0.59,"z":0.48},{"g":5.24,"w":-0.51,"z":1.36},{"g":5.25,"w":-0.69,"z":0.78},{"g":5.26,"w":-0.57,"z":0.23},{"g":5.27,"w":-0.63,"z":0.86},{"g":5.28,"w":-0.50,"z":0.61},{"g":5.29,"w":-0.62,"z":0.99},{"g":5.30,"w":-0.46,"z":0.42},{"g":5.31,"w":-0.67,"z":0.74},{"g":5.32,"w":-0.54,"z":1.15},{"g":5.33,"w":-0.59,"z":0.57},{"g":5.34,"w":-0.64,"z":0.83},{"g":5.35,"w":-0.51,"z":0.36},{"g":5.36,"w":-0.55,"z":0.69},{"g":5.37,"w":-0.66,"z":0.94},{"g":5.38,"w":-0.48,"z":0.51},{"g":5.39,"w":-0.60,"z":1.28},{"g":5.40,"w":-0.52,"z":0.77},{"g":5.41,"w":-0.69,"z":0.45},{"g":5.42,"w":-0.58,"z":0.89},{"g":5.43,"w":-0.64,"z":0.64},{"g":5.44,"w":-0.51,"z":1.06},{"g":5.45,"w":-0.63,"z":0.29},{"g":5.46,"w":-0.47,"z":0.82},{"g":5.47,"w":-0.68,"z":0.58},{"g":5.48,"w":-0.55,"z":0.96},{"g":5.49,"w":-0.60,"z":0.71},{"g":5.49,"w":-0.65,"z":0.39},{"g":5.50,"w":-0.52,"z":1.17},{"g":5.50,"w":-0.56,"z":0.63},{"g":5.50,"w":-0.67,"z":-0.22},
{"g":5.51,"w":-0.49,"z":0.86},{"g":5.52,"w":-0.61,"z":0.48},{"g":5.53,"w":-0.53,"z":0.72},{"g":5.54,"w":-0.70,"z":1.01},{"g":5.55,"w":-0.58,"z":0.55},{"g":5.56,"w":-0.64,"z":0.91},{"g":5.57,"w":-0.52,"z":0.33},{"g":5.58,"w":-0.64,"z":1.24},{"g":5.59,"w":-0.48,"z":0.78},{"g":5.60,"w":-0.69,"z":0.62},{"g":5.61,"w":-0.56,"z":0.97},{"g":5.62,"w":-0.61,"z":0.43},{"g":5.63,"w":-0.66,"z":0.85},{"g":5.64,"w":-0.53,"z":1.12},{"g":5.65,"w":-0.57,"z":0.58},{"g":5.66,"w":-0.68,"z":0.79},{"g":5.67,"w":-0.50,"z":0.26},{"g":5.68,"w":-0.62,"z":0.93},{"g":5.69,"w":-0.54,"z":1.41},{"g":5.70,"w":-0.71,"z":0.67},{"g":5.71,"w":-0.59,"z":0.84},{"g":5.72,"w":-0.65,"z":0.49},{"g":5.73,"w":-0.53,"z":1.05},{"g":5.74,"w":-0.65,"z":0.74},{"g":5.75,"w":-0.49,"z":0.61},{"g":5.76,"w":-0.70,"z":-0.45},{"g":5.77,"w":-0.57,"z":0.88},{"g":5.78,"w":-0.62,"z":1.19},{"g":5.79,"w":-0.67,"z":0.53},{"g":5.80,"w":-0.54,"z":0.81},{"g":5.81,"w":-0.58,"z":0.97},{"g":5.82,"w":-0.69,"z":0.37},{"g":5.83,"w":-0.51,"z":1.33},{"g":5.84,"w":-0.63,"z":0.72},{"g":5.85,"w":-0.55,"z":0.89},{"g":5.86,"w":-0.72,"z":0.59},{"g":5.87,"w":-0.60,"z":1.08},{"g":5.88,"w":-0.66,"z":0.45},{"g":5.89,"w":-0.53,"z":0.94},{"g":5.90,"w":-0.65,"z":0.77},{"g":5.91,"w":-0.49,"z":1.23},{"g":5.92,"w":-0.71,"z":0.63},{"g":5.93,"w":-0.58,"z":0.86},{"g":5.94,"w":-0.63,"z":0.28},{"g":5.95,"w":-0.68,"z":1.02},{"g":5.96,"w":-0.55,"z":0.71},{"g":5.97,"w":-0.59,"z":0.92},{"g":5.98,"w":-0.70,"z":1.47},{"g":5.99,"w":-0.52,"z":0.56},{"g":6.00,"w":-0.64,"z":0.83},{"g":6.00,"w":-0.56,"z":1.11},
{"g":6.01,"w":-0.73,"z":0.67},{"g":6.02,"w":-0.61,"z":0.95},{"g":6.03,"w":-0.67,"z":1.26},{"g":6.04,"w":-0.54,"z":0.52},{"g":6.05,"w":-0.66,"z":0.88},{"g":6.07,"w":-0.50,"z":1.09},{"g":6.08,"w":-0.71,"z":0.74},{"g":6.09,"w":-0.58,"z":1.38},{"g":6.10,"w":-0.64,"z":0.61},{"g":6.11,"w":-0.69,"z":0.99},{"g":6.13,"w":-0.56,"z":0.82},{"g":6.14,"w":-0.60,"z":1.16},{"g":6.15,"w":-0.71,"z":0.44},{"g":6.16,"w":-0.53,"z":0.93},{"g":6.18,"w":-0.65,"z":1.29},{"g":6.19,"w":-0.57,"z":0.71},{"g":6.20,"w":-0.74,"z":1.04},{"g":6.21,"w":-0.62,"z":0.57},{"g":6.23,"w":-0.68,"z":0.86},{"g":6.24,"w":-0.55,"z":1.21},{"g":6.25,"w":-0.67,"z":0.79},{"g":6.26,"w":-0.51,"z":0.98},{"g":6.28,"w":-0.72,"z":0.38},{"g":6.29,"w":-0.59,"z":1.13},{"g":6.30,"w":-0.64,"z":0.89},{"g":6.31,"w":-0.69,"z":1.52},{"g":6.33,"w":-0.57,"z":0.69},{"g":6.34,"w":-0.61,"z":1.01},{"g":6.35,"w":-0.72,"z":0.84},{"g":6.36,"w":-0.54,"z":1.27},{"g":6.38,"w":-0.66,"z":0.62},{"g":6.39,"w":-0.58,"z":0.95},{"g":6.40,"w":-0.75,"z":1.09},{"g":6.41,"w":-0.63,"z":0.76},{"g":6.42,"w":-0.69,"z":1.34},{"g":6.43,"w":-0.56,"z":0.88},{"g":6.44,"w":-0.68,"z":0.53},{"g":6.45,"w":-0.52,"z":1.06},{"g":6.46,"w":-0.73,"z":0.91},{"g":6.47,"w":-0.60,"z":1.18},{"g":6.48,"w":-0.65,"z":0.72},{"g":6.49,"w":-0.70,"z":0.99},{"g":6.50,"w":-0.58,"z":1.41},{"g":6.50,"w":-0.62,"z":0.83},
{"g":6.52,"w":-0.73,"z":0.86},{"g":6.54,"w":-0.55,"z":1.24},{"g":6.56,"w":-0.67,"z":0.71},{"g":6.58,"w":-0.59,"z":1.05},{"g":6.58,"w":-0.76,"z":0.22},{"g":6.60,"w":-0.64,"z":1.47},{"g":6.62,"w":-0.70,"z":-0.13},{"g":6.63,"w":-0.58,"z":0.93},{"g":6.65,"w":-0.70,"z":1.16},{"g":6.67,"w":-0.56,"z":0.64},{"g":6.69,"w":-0.75,"z":1.33},{"g":6.71,"w":-0.62,"z":0.98},{"g":6.72,"w":-0.67,"z":1.85},{"g":6.73,"w":-0.72,"z":1.11},{"g":6.75,"w":-0.59,"z":0.79},{"g":6.77,"w":-0.63,"z":1.58},{"g":6.79,"w":-0.74,"z":1.02},{"g":6.81,"w":-0.56,"z":0.88},{"g":6.83,"w":-0.69,"z":1.27},{"g":6.84,"w":-0.61,"z":0.41},{"g":6.85,"w":-0.78,"z":0.59},{"g":6.87,"w":-0.66,"z":1.19},{"g":6.89,"w":-0.72,"z":1.43},{"g":6.91,"w":-0.59,"z":0.95},{"g":6.93,"w":-0.71,"z":1.08},{"g":6.95,"w":-0.57,"z":1.71},{"g":6.96,"w":-0.76,"z":1.62},{"g":6.97,"w":-0.63,"z":0.82},{"g":6.99,"w":-0.68,"z":1.25},
{"g":7.02,"w":-0.73,"z":1.12},{"g":7.05,"w":-0.60,"z":0.89},{"g":7.08,"w":-0.65,"z":1.41},{"g":7.11,"w":-0.76,"z":0.68},{"g":7.14,"w":-0.58,"z":1.27},{"g":7.17,"w":-0.70,"z":0.02},{"g":7.19,"w":-0.62,"z":1.03},{"g":7.20,"w":-0.79,"z":2.27},{"g":7.22,"w":-0.67,"z":1.56},{"g":7.25,"w":-0.74,"z":0.94},{"g":7.28,"w":-0.61,"z":1.72},{"g":7.31,"w":-0.73,"z":1.18},{"g":7.34,"w":-0.59,"z":0.77},{"g":7.35,"w":-0.78,"z":0.23},{"g":7.37,"w":-0.65,"z":1.49},{"g":7.40,"w":-0.71,"z":1.84},{"g":7.43,"w":-0.76,"z":1.06},{"g":7.44,"w":-0.63,"z":1.95},{"g":7.46,"w":-0.67,"z":1.35},{"g":7.48,"w":-0.78,"z":0.58},
{"g":7.53,"w":-0.61,"z":1.21},{"g":7.58,"w":-0.73,"z":0.86},{"g":7.63,"w":-0.65,"z":1.63},{"g":7.68,"w":-0.81,"z":1.02},{"g":7.72,"w":-0.71,"z":1.78},{"g":7.77,"w":-0.77,"z":0.45},{"g":7.82,"w":-0.65,"z":1.34},{"g":7.86,"w":-0.77,"z":0.93},{"g":7.91,"w":-0.65,"z":1.52},{"g":7.96,"w":-0.80,"z":1.17},
{"g":8.04,"w":-0.71,"z":1.43},{"g":8.12,"w":-0.79,"z":0.97},{"g":8.21,"w":-0.71,"z":1.72},{"g":8.29,"w":-0.79,"z":1.21},{"g":8.38,"w":-0.73,"z":0.34},{"g":8.46,"w":-0.82,"z":1.58},{"g":8.55,"w":-0.74,"z":1.05},{"g":8.68,"w":-0.82,"z":1.47},{"g":8.79,"w":-0.78,"z":0.88},{"g":8.93,"w":-0.86,"z":1.76},{"g":9.04,"w":-0.78,"z":1.22},{"g":9.12,"w":-0.87,"z":0.91},{"g":9.21,"w":-0.81,"z":1.03},{"g":9.33,"w":-0.86,"z":1.17},
{"g":4.02,"w":-0.53,"z":0.41},{"g":4.06,"w":-0.45,"z":0.77},{"g":4.10,"w":-0.58,"z":0.28},{"g":4.14,"w":-0.47,"z":0.62},{"g":4.18,"w":-0.52,"z":0.95},{"g":4.22,"w":-0.43,"z":0.17},{"g":4.26,"w":-0.56,"z":0.53},{"g":4.30,"w":-0.49,"z":0.84},{"g":4.34,"w":-0.60,"z":0.36},{"g":4.38,"w":-0.46,"z":0.71},{"g":4.42,"w":-0.54,"z":0.02},{"g":4.46,"w":-0.50,"z":0.58},{"g":4.50,"w":-0.59,"z":0.89},{"g":4.53,"w":-0.44,"z":0.47},{"g":4.56,"w":-0.51,"z":0.24},{"g":4.59,"w":-0.62,"z":0.66},{"g":4.61,"w":-0.48,"z":1.09},{"g":4.63,"w":-0.55,"z":0.38},{"g":4.66,"w":-0.43,"z":0.79},{"g":4.68,"w":-0.58,"z":0.55},{"g":4.70,"w":-0.53,"z":0.14},{"g":4.72,"w":-0.47,"z":0.92},{"g":4.74,"w":-0.61,"z":0.69},{"g":4.76,"w":-0.50,"z":0.33},{"g":4.79,"w":-0.56,"z":0.77},{"g":4.81,"w":-0.45,"z":0.58},{"g":4.83,"w":-0.63,"z":1.18},{"g":4.85,"w":-0.52,"z":0.41},{"g":4.87,"w":-0.58,"z":0.85},{"g":4.89,"w":-0.47,"z":0.64},{"g":4.91,"w":-0.60,"z":0.21},{"g":4.93,"w":-0.51,"z":0.73},{"g":4.95,"w":-0.55,"z":0.52},{"g":4.97,"w":-0.64,"z":0.91},{"g":4.99,"w":-0.49,"z":0.36},
{"g":5.01,"w":-0.59,"z":0.67},{"g":5.03,"w":-0.54,"z":1.02},{"g":5.05,"w":-0.47,"z":0.44},{"g":5.07,"w":-0.62,"z":0.81},{"g":5.09,"w":-0.52,"z":0.58},{"g":5.11,"w":-0.57,"z":0.26},{"g":5.13,"w":-0.66,"z":0.74},{"g":5.15,"w":-0.50,"z":0.95},{"g":5.17,"w":-0.61,"z":0.49},{"g":5.19,"w":-0.55,"z":0.68},{"g":5.21,"w":-0.48,"z":1.21},{"g":5.23,"w":-0.63,"z":0.37},{"g":5.25,"w":-0.53,"z":0.86},{"g":5.27,"w":-0.58,"z":0.63},{"g":5.29,"w":-0.67,"z":0.52},{"g":5.31,"w":-0.51,"z":0.77},{"g":5.33,"w":-0.56,"z":0.29},{"g":5.35,"w":-0.61,"z":1.07},{"g":5.37,"w":-0.49,"z":0.72},{"g":5.39,"w":-0.64,"z":0.55},{"g":5.41,"w":-0.54,"z":0.91},{"g":5.43,"w":-0.59,"z":0.43},{"g":5.45,"w":-0.68,"z":0.81},{"g":5.47,"w":-0.52,"z":0.66},{"g":5.49,"w":-0.57,"z":1.14},{"g":5.51,"w":-0.63,"z":0.58},{"g":5.53,"w":-0.50,"z":0.79},{"g":5.55,"w":-0.66,"z":0.34},{"g":5.57,"w":-0.56,"z":0.96},{"g":5.59,"w":-0.61,"z":0.71},{"g":5.61,"w":-0.53,"z":0.52},{"g":5.63,"w":-0.69,"z":0.87},{"g":5.65,"w":-0.58,"z":1.25},{"g":5.67,"w":-0.63,"z":0.64},{"g":5.69,"w":-0.52,"z":0.81},{"g":5.71,"w":-0.67,"z":0.46},{"g":5.73,"w":-0.57,"z":0.98},{"g":5.75,"w":-0.62,"z":0.75},{"g":5.77,"w":-0.54,"z":0.59},{"g":5.79,"w":-0.70,"z":1.12},{"g":5.81,"w":-0.59,"z":0.83},{"g":5.83,"w":-0.64,"z":0.38},{"g":5.85,"w":-0.55,"z":0.94},{"g":5.87,"w":-0.68,"z":0.69},{"g":5.89,"w":-0.60,"z":1.31},{"g":5.91,"w":-0.65,"z":0.78},{"g":5.93,"w":-0.53,"z":0.55},{"g":5.95,"w":-0.71,"z":0.99},{"g":5.97,"w":-0.61,"z":0.86},{"g":5.99,"w":-0.66,"z":0.47},
{"g":6.01,"w":-0.56,"z":1.04},{"g":6.03,"w":-0.69,"z":0.79},{"g":6.05,"w":-0.62,"z":1.19},{"g":6.07,"w":-0.67,"z":0.63},{"g":6.09,"w":-0.55,"z":0.91},{"g":6.11,"w":-0.72,"z":0.74},{"g":6.13,"w":-0.63,"z":1.36},{"g":6.15,"w":-0.68,"z":0.85},{"g":6.17,"w":-0.58,"z":0.52},{"g":6.19,"w":-0.70,"z":1.07},{"g":6.21,"w":-0.64,"z":0.88},{"g":6.23,"w":-0.59,"z":1.23},{"g":6.25,"w":-0.73,"z":0.69},{"g":6.27,"w":-0.61,"z":0.96},{"g":6.29,"w":-0.66,"z":0.58},{"g":6.31,"w":-0.56,"z":1.14},{"g":6.33,"w":-0.71,"z":0.82},{"g":6.35,"w":-0.63,"z":1.01},{"g":6.37,"w":-0.68,"z":0.47},{"g":6.39,"w":-0.59,"z":1.29},{"g":6.41,"w":-0.74,"z":0.93},{"g":6.43,"w":-0.65,"z":0.76},{"g":6.45,"w":-0.60,"z":1.17},{"g":6.47,"w":-0.70,"z":0.64},{"g":6.49,"w":-0.63,"z":1.05},{"g":6.51,"w":-0.75,"z":0.89},{"g":6.53,"w":-0.66,"z":1.32},{"g":6.55,"w":-0.61,"z":0.73},{"g":6.57,"w":-0.71,"z":1.11},{"g":6.59,"w":-0.64,"z":0.96},{"g":6.61,"w":-0.58,"z":0.58},{"g":6.63,"w":-0.73,"z":1.24},{"g":6.65,"w":-0.67,"z":0.84},{"g":6.67,"w":-0.62,"z":1.43},{"g":6.69,"w":-0.76,"z":1.02},{"g":6.71,"w":-0.65,"z":0.71},{"g":6.73,"w":-0.70,"z":1.18},{"g":6.75,"w":-0.60,"z":0.92},{"g":6.77,"w":-0.74,"z":1.37},{"g":6.79,"w":-0.66,"z":0.81},{"g":6.81,"w":-0.71,"z":1.06},{"g":6.83,"w":-0.63,"z":1.52},{"g":6.85,"w":-0.77,"z":0.95},{"g":6.87,"w":-0.68,"z":1.21},{"g":6.89,"w":-0.64,"z":0.77},{"g":6.91,"w":-0.73,"z":1.13},{"g":6.93,"w":-0.67,"z":1.46},{"g":6.95,"w":-0.61,"z":0.89},{"g":6.97,"w":-0.75,"z":1.28},{"g":6.99,"w":-0.69,"z":1.04},
{"g":7.02,"w":-0.64,"z":1.31},{"g":7.05,"w":-0.72,"z":0.97},{"g":7.08,"w":-0.67,"z":1.19},{"g":7.11,"w":-0.77,"z":1.58},{"g":7.14,"w":-0.69,"z":0.84},{"g":7.17,"w":-0.63,"z":1.36},{"g":7.20,"w":-0.74,"z":1.12},{"g":7.23,"w":-0.68,"z":1.67},{"g":7.26,"w":-0.78,"z":1.01},{"g":7.29,"w":-0.66,"z":1.24},{"g":7.32,"w":-0.71,"z":0.91},{"g":7.35,"w":-0.75,"z":1.53},{"g":7.38,"w":-0.67,"z":1.29},{"g":7.41,"w":-0.79,"z":1.08},{"g":7.44,"w":-0.70,"z":1.77},{"g":7.47,"w":-0.73,"z":1.38},{"g":7.50,"w":-0.66,"z":0.96},{"g":7.54,"w":-0.76,"z":1.46},{"g":7.58,"w":-0.71,"z":1.26},{"g":7.62,"w":-0.79,"z":1.69},{"g":7.66,"w":-0.68,"z":1.11},{"g":7.71,"w":-0.75,"z":1.41},{"g":7.76,"w":-0.72,"z":0.88},{"g":7.81,"w":-0.81,"z":1.59},{"g":7.87,"w":-0.70,"z":1.29},{"g":7.94,"w":-0.77,"z":1.04},{"g":8.02,"w":-0.74,"z":1.53},{"g":8.10,"w":-0.82,"z":1.19},{"g":8.19,"w":-0.76,"z":1.36},{"g":8.27,"w":-0.80,"z":0.96},{"g":8.36,"w":-0.78,"z":1.64},{"g":8.48,"w":-0.84,"z":1.28},{"g":8.62,"w":-0.79,"z":1.01},{"g":8.76,"w":-0.85,"z":1.39},{"g":8.88,"w":-0.82,"z":1.12},{"g":9.08,"w":-0.88,"z":1.41},{"g":9.18,"w":-0.84,"z":1.28},{"g":9.27,"w":-0.90,"z":0.96},{"g":9.37,"w":-0.85,"z":1.06}
]
},
"concat": [
{
"width": 500, "height": 408,
"title": {"text": "(a)\u00a0 Prior (implied) Draws (ω, γ)"},
"layer": [
{"data": {"name": "prior"},
 "mark": {"type": "point", "shape": "circle", "filled": false, "size": 72, "strokeWidth": 1, "color": "#000088", "opacity": 1},
 "encoding": {
  "x": {"field": "w", "type": "quantitative", "scale": {"domain": [-6, 2], "nice": false, "zero": false}, "axis": {"orient": "bottom", "title": "ω", "values": [-6, -4, -2, 0, 2]}},
  "y": {"field": "g", "type": "quantitative", "scale": {"domain": [-4, 12], "nice": false, "zero": false}, "axis": {"orient": "left", "title": "γ", "values": [-4, -2, 0, 2, 4, 6, 8, 10, 12]}}
 }},
{"data": {"values": [{"v": -1.17}]},
 "mark": {"type": "rule", "color": "#c4161c", "strokeWidth": 2, "strokeDash": [6, 3]},
 "encoding": {"x": {"field": "v", "type": "quantitative", "axis": {"orient": "top", "labels": false, "title": null, "values": [-6, -4, -2, 0, 2]}}}},
{"data": {"values": [{"v": 5.41}]},
 "mark": {"type": "rule", "color": "#c4161c", "strokeWidth": 2, "strokeDash": [6, 3]},
 "encoding": {"y": {"field": "v", "type": "quantitative", "axis": {"orient": "right", "labels": false, "title": null, "values": [-4, -2, 0, 2, 4, 6, 8, 10, 12]}}}}
]
},
{
"width": 500, "height": 408,
"title": {"text": "(b)\u00a0 Posterior Draws (ω, γ)"},
"layer": [
{"data": {"values": [{"v": -0.58}]},
 "mark": {"type": "rule", "color": "#c4161c", "strokeWidth": 2, "strokeDash": [6, 3]},
 "encoding": {"x": {"field": "v", "type": "quantitative", "scale": {"domain": [-6, 2], "nice": false, "zero": false}, "axis": {"orient": "top", "labels": false, "title": null, "values": [-6, -4, -2, 0, 2]}}}},
{"data": {"values": [{"v": 5.61}]},
 "mark": {"type": "rule", "color": "#c4161c", "strokeWidth": 2, "strokeDash": [6, 3]},
 "encoding": {"y": {"field": "v", "type": "quantitative", "scale": {"domain": [-4, 12], "nice": false, "zero": false}, "axis": {"orient": "right", "labels": false, "title": null, "values": [-4, -2, 0, 2, 4, 6, 8, 10, 12]}}}},
{"data": {"name": "post"},
 "mark": {"type": "point", "shape": "circle", "filled": false, "size": 72, "strokeWidth": 1, "color": "#000088", "opacity": 1},
 "encoding": {
  "x": {"field": "w", "type": "quantitative", "axis": {"orient": "bottom", "title": "ω", "values": [-6, -4, -2, 0, 2]}},
  "y": {"field": "g", "type": "quantitative", "axis": {"orient": "left", "title": "γ", "values": [-4, -2, 0, 2, 4, 6, 8, 10, 12]}}
 }}
]
},
{
"width": 500, "height": 408,
"title": {"text": "(c)\u00a0 Prior (implied) Draws (ζ, γ)"},
"layer": [
{"data": {"name": "prior"},
 "mark": {"type": "point", "shape": "circle", "filled": false, "size": 72, "strokeWidth": 1, "color": "#000088", "opacity": 1},
 "encoding": {
  "x": {"field": "z", "type": "quantitative", "scale": {"domain": [-4, 4], "nice": false, "zero": false}, "axis": {"orient": "bottom", "title": "ζ", "values": [-4, -2, 0, 2, 4]}},
  "y": {"field": "g", "type": "quantitative", "scale": {"domain": [-4, 12], "nice": false, "zero": false}, "axis": {"orient": "left", "title": "γ", "values": [-4, -2, 0, 2, 4, 6, 8, 10, 12]}}
 }},
{"data": {"values": [{"v": 0.0}]},
 "mark": {"type": "rule", "color": "#c4161c", "strokeWidth": 2, "strokeDash": [6, 3]},
 "encoding": {"x": {"field": "v", "type": "quantitative", "axis": {"orient": "top", "labels": false, "title": null, "values": [-4, -2, 0, 2, 4]}}}},
{"data": {"values": [{"v": 5.41}]},
 "mark": {"type": "rule", "color": "#c4161c", "strokeWidth": 2, "strokeDash": [6, 3]},
 "encoding": {"y": {"field": "v", "type": "quantitative", "axis": {"orient": "right", "labels": false, "title": null, "values": [-4, -2, 0, 2, 4, 6, 8, 10, 12]}}}}
]
},
{
"width": 500, "height": 408,
"title": {"text": "(d)\u00a0 Posterior Draws (ζ, γ)"},
"layer": [
{"data": {"values": [{"v": 0.83}]},
 "mark": {"type": "rule", "color": "#c4161c", "strokeWidth": 2, "strokeDash": [6, 3]},
 "encoding": {"x": {"field": "v", "type": "quantitative", "scale": {"domain": [-4, 4], "nice": false, "zero": false}, "axis": {"orient": "top", "labels": false, "title": null, "values": [-4, -2, 0, 2, 4]}}}},
{"data": {"values": [{"v": 5.6}]},
 "mark": {"type": "rule", "color": "#c4161c", "strokeWidth": 2, "strokeDash": [6, 3]},
 "encoding": {"y": {"field": "v", "type": "quantitative", "scale": {"domain": [-4, 12], "nice": false, "zero": false}, "axis": {"orient": "right", "labels": false, "title": null, "values": [-4, -2, 0, 2, 4, 6, 8, 10, 12]}}}},
{"data": {"name": "post"},
 "mark": {"type": "point", "shape": "circle", "filled": false, "size": 72, "strokeWidth": 1, "color": "#000088", "opacity": 1},
 "encoding": {
  "x": {"field": "z", "type": "quantitative", "axis": {"orient": "bottom", "title": "ζ", "values": [-4, -2, 0, 2, 4]}},
  "y": {"field": "g", "type": "quantitative", "axis": {"orient": "left", "title": "γ", "values": [-4, -2, 0, 2, 4, 6, 8, 10, 12]}}
 }}
]
}
],
"config": {
 "view": {"stroke": "black", "strokeWidth": 2},
 "axis": {"grid": false, "domain": false, "ticks": true, "tickSize": -5, "tickWidth": 1.5, "tickColor": "black",
   "labelFont": "DejaVu Sans", "labelFontSize": 17, "labelColor": "black", "labelFlush": false, "labelOverlap": false,
   "labelExpr": "datum.value < 0 ? '-' + abs(datum.value) : '' + datum.value",
   "titleFont": "DejaVu Sans", "titleFontSize": 13, "titleFontWeight": "bold", "titleColor": "black"},
 "axisBottom": {"labelPadding": 11, "titleY": 38, "titleBaseline": "middle"},
 "axisLeft": {"labelPadding": 8, "titleX": -38, "titleBaseline": "middle"},
 "title": {"orient": "bottom", "font": "Liberation Serif", "fontSize": 28, "fontWeight": "normal", "color": "black", "offset": 21, "anchor": "middle", "frame": "bounds"}
}
}
